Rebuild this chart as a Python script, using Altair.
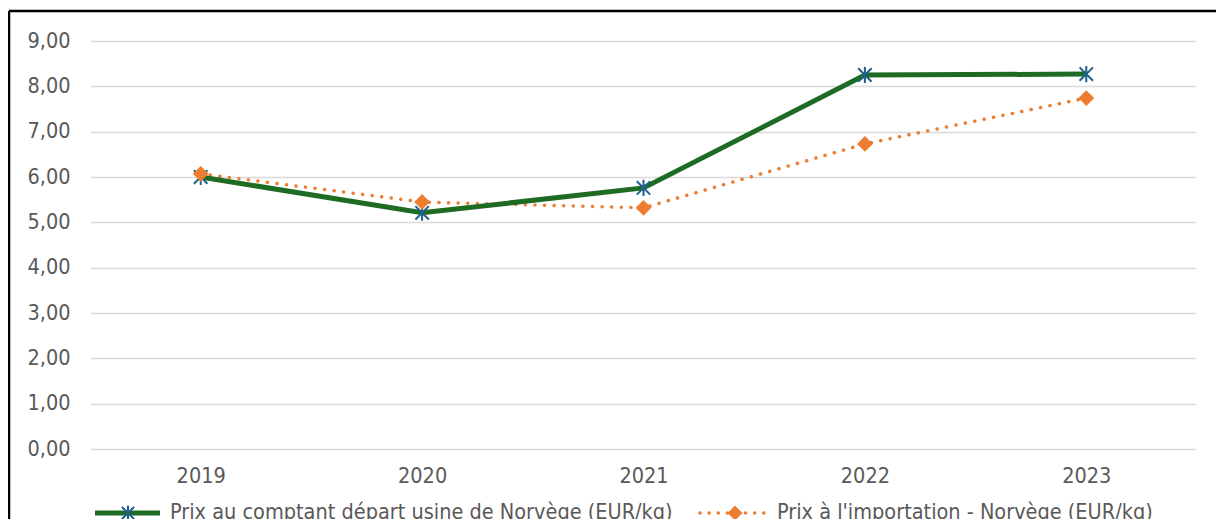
import altair as alt
import pandas as pd

years = ["2019", "2020", "2021", "2022", "2023"]
spot_prices = [6.00, 5.21, 5.76, 8.25, 8.27]
import_prices = [6.07, 5.45, 5.32, 6.73, 7.74]
series_names = [
    "Prix au comptant départ usine de Norvège (EUR/kg)",
    "Prix à l'importation - Norvège (EUR/kg)",
]

FONT = "DejaVu Sans Condensed"
FS = 21.5
GREEN = "#1E6B24"
BLUE = "#1F5F8B"
ORANGE = "#ED7D31"
TXT = "#595959"
ASTERISK = "M-1,-1L1,1M-1,1L1,-1M0,-1.2L0,1.2"

spot = pd.DataFrame({"year": years, "value": spot_prices})
imp = pd.DataFrame({"year": years, "value": import_prices})

x_axis = alt.Axis(
    title=None, labelAngle=0, labelFont=FONT, labelFontSize=FS,
    labelColor=TXT, labelPadding=16, ticks=False, domain=False, grid=False,
)
x_scale = alt.Scale(type="point", padding=0.5)
y_axis = alt.Axis(
    title=None, values=list(range(10)),
    labelExpr="replace(format(datum.value, '.2f'), '.', ',')",
    labelFont=FONT, labelFontSize=FS, labelColor=TXT, labelPadding=20,
    ticks=False, domain=False, gridColor="#D9D9D9", gridWidth=1.5,
)
y_scale = alt.Scale(domain=[0, 9], nice=False)

x_enc = alt.X("year:O", scale=x_scale, axis=x_axis)
y_enc = alt.Y("value:Q", scale=y_scale, axis=y_axis)

spot_line = alt.Chart(spot).mark_line(color=GREEN, strokeWidth=5).encode(x=x_enc, y=y_enc)
spot_pts = alt.Chart(spot).mark_point(
    shape=ASTERISK, size=180, stroke=BLUE, strokeWidth=2, filled=False, opacity=1
).encode(x=x_enc, y=y_enc)

imp_line = alt.Chart(imp).mark_line(
    color=ORANGE, strokeWidth=3.5, strokeDash=[0.1, 9.5], strokeCap="round"
).encode(x=x_enc, y=y_enc)
imp_pts = alt.Chart(imp).mark_point(
    shape="diamond", size=250, fill=ORANGE, filled=True, opacity=1
).encode(x=x_enc, y=y_enc)

one = pd.DataFrame({"k": [0]})
base = alt.Chart(one)

# frame
frame_top = base.mark_rule(color="black", strokeWidth=2.5).encode(
    x=alt.value(-81), x2=alt.value(1140), y=alt.value(-30)
)
frame_left = base.mark_rule(color="black", strokeWidth=2.5).encode(
    x=alt.value(-81), y=alt.value(-30), y2=alt.value(480)
)

# white cover for the view edges
cover_left = base.mark_rule(color="white", strokeWidth=2).encode(
    x=alt.value(0), y=alt.value(-2), y2=alt.value(430)
)
cover_right = base.mark_rule(color="white", strokeWidth=2).encode(
    x=alt.value(1107), y=alt.value(-2), y2=alt.value(430)
)

# legend
LY = 472
leg1_line = base.mark_rule(color=GREEN, strokeWidth=5).encode(
    x=alt.value(5), x2=alt.value(70), y=alt.value(LY)
)
leg1_pt = base.mark_point(
    shape=ASTERISK, size=150, stroke=BLUE, strokeWidth=2, filled=False, opacity=1
).encode(x=alt.value(38), y=alt.value(LY))
leg1_txt = base.mark_text(
    align="left", baseline="middle", font=FONT, fontSize=FS, color=TXT
).encode(x=alt.value(80), y=alt.value(LY), text=alt.value(series_names[0]))

leg2_line = base.mark_rule(
    color=ORANGE, strokeWidth=3.5, strokeDash=[0.1, 9], strokeCap="round"
).encode(x=alt.value(610), x2=alt.value(676), y=alt.value(LY))
leg2_pt = base.mark_point(
    shape="diamond", size=220, fill=ORANGE, filled=True, opacity=1
).encode(x=alt.value(645), y=alt.value(LY))
leg2_txt = base.mark_text(
    align="left", baseline="middle", font=FONT, fontSize=FS, color=TXT
).encode(x=alt.value(687), y=alt.value(LY), text=alt.value(series_names[1]))

chart = alt.layer(
    imp_line, spot_line, spot_pts, imp_pts,
    frame_top, frame_left, cover_left, cover_right,
    leg1_line, leg1_pt, leg1_txt, leg2_line, leg2_pt, leg2_txt,
).properties(
    width=1107, height=408,
    autosize=alt.AutoSizeParams(type="none"),
    padding={"left": 82, "top": 33, "right": 19, "bottom": 70},
).configure(
    background="white",
    view=alt.ViewConfig(strokeOpacity=0, strokeWidth=0),
    axisX=alt.AxisConfig(grid=False, domain=False, ticks=False),
    axisY=alt.AxisConfig(domain=False, ticks=False),
)

chart.save("out.html", embed_options={"renderer": "svg", "actions": False})
